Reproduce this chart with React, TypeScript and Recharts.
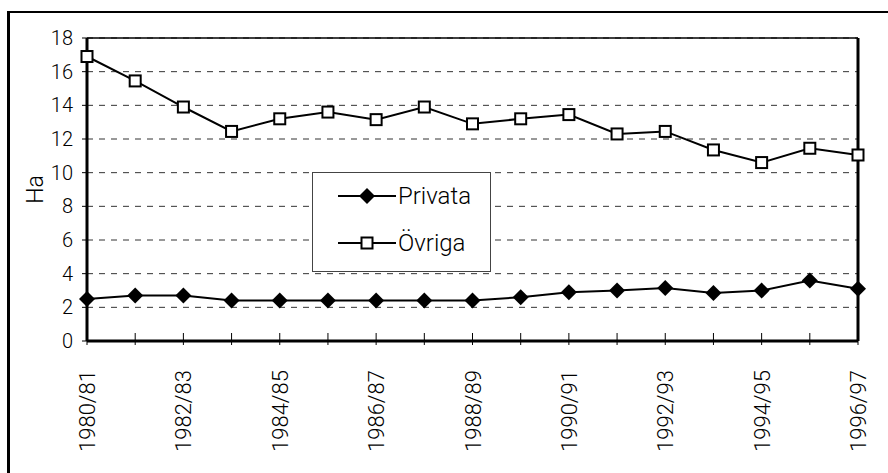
import React from 'react';
import {LineChart, Line, XAxis, YAxis, CartesianGrid, Legend, ReferenceLine} from 'recharts';

const years = ['1980/81', '1981/82', '1982/83', '1983/84', '1984/85', '1985/86', '1986/87', '1987/88', '1988/89',
    '1989/90', '1990/91', '1991/92', '1992/93', '1993/94', '1994/95', '1995/96', '1996/97'];
const privata = [2.5, 2.7, 2.7, 2.4, 2.4, 2.4, 2.4, 2.4, 2.4, 2.6, 2.9, 3.0, 3.15, 2.85, 3.0, 3.6, 3.1];
const ovriga = [16.9, 15.45, 13.9, 12.45, 13.2, 13.6, 13.15, 13.9, 12.9, 13.2, 13.45, 12.3, 12.45, 11.35, 10.6, 11.45, 11.05];
const yTicks = [0, 2, 4, 6, 8, 10, 12, 14, 16, 18];

const data = years.map((y, i) => ({year: y, Privata: privata[i], Ovriga: ovriga[i]}));

const font = 'Roboto, "Liberation Sans", Arial, sans-serif';
const weight = 300;

const Diamond = (props: any) => {
    const {cx, cy, index} = props;
    if (cx == null || cy == null) return null;
    return <path key={'p' + index} d={`M${cx},${cy - 8}L${cx + 8},${cy}L${cx},${cy + 8}L${cx - 8},${cy}Z`} fill="#000"/>;
};

const Square = (props: any) => {
    const {cx, cy, index} = props;
    if (cx == null || cy == null) return null;
    return <rect key={'o' + index} x={cx - 5.5} y={cy - 5.5} width={11} height={11} fill="#fff" stroke="#000" strokeWidth={2}/>;
};

const XTick = (props: any) => {
    const {x, y, payload, index} = props;
    return (
        <g>
            <line x1={x} x2={x} y1={y - 8} y2={y + 4} stroke="#000" strokeWidth={1}/>
            {index % 2 === 0 && (
                <text x={0} y={0} transform={`translate(${x + 8},${y + 29}) rotate(-90)`} textAnchor="end"
                      fontSize={22} fontWeight={weight} fill="#000" fontFamily={font}>{payload.value}</text>
            )}
        </g>
    );
};

const LegendBox = () => {
    const row = (label: string, top: number, marker: React.ReactNode) => (
        <div style={{position: 'absolute', left: 25, top: top - 14, height: 28, display: 'flex', alignItems: 'center'}}>
            <svg width={58} height={28}>
                <line x1={0} x2={58} y1={14} y2={14} stroke="#000" strokeWidth={2}/>
                {marker}
            </svg>
            <span style={{fontSize: 24, fontWeight: weight, marginLeft: 2, lineHeight: '28px'}}>{label}</span>
        </div>
    );
    return (
        <div style={{position: 'relative', width: 179, height: 100, boxSizing: 'border-box', border: '1px solid #444',
            background: '#fff', fontFamily: font, color: '#000'}}>
            {row('Privata', 23, <path d="M29,6L37,14L29,22L21,14Z" fill="#000"/>)}
            {row('Övriga', 70, <rect x={23.5} y={8.5} width={11} height={11} fill="#fff" stroke="#000" strokeWidth={2}/>)}
        </div>
    );
};

export default function App() {
    return (
        <div style={{position: 'absolute', left: 0, top: 0, width: 888, height: 473, overflow: 'hidden', background: '#fff', fontFamily: font}}>
            <div style={{position: 'absolute', left: 7, top: 11, width: 1000, height: 1000, borderLeft: '3px solid #000', borderTop: '2px solid #000'}}/>
            <div style={{position: 'absolute', left: 0, top: 0}}>
                <LineChart width={888} height={473} data={data} margin={{top: 38, right: 30, left: 0, bottom: 0}}>
                    <CartesianGrid vertical={false} stroke="#333" strokeDasharray="6 6"/>
                    <XAxis dataKey="year" interval={0} height={132} tickSize={0} tickMargin={0} tickLine={false}
                           axisLine={{stroke: '#000', strokeWidth: 3}} tick={<XTick/>}/>
                    <YAxis domain={[0, 18]} ticks={yTicks} width={87} tickSize={5} tickMargin={9}
                           axisLine={{stroke: '#000', strokeWidth: 3}} tickLine={{stroke: '#000'}}
                           tick={{fontSize: 20, fontWeight: weight, fill: '#000', fontFamily: font}}
                           label={{value: 'Ha', angle: -90, position: 'center', dx: -8.5, fontSize: 23, fontWeight: weight, fill: '#000', fontFamily: font}}/>
                    <ReferenceLine y={18} stroke="#000" strokeWidth={1.5}/>
                    <ReferenceLine x="1996/97" stroke="#000" strokeWidth={3}/>
                    <Legend layout="vertical" align="center" verticalAlign="middle" content={() => <LegendBox/>}
                            wrapperStyle={{left: 312, top: 172, width: 179, height: 100}}/>
                    <Line type="linear" dataKey="Privata" stroke="#000" strokeWidth={2} dot={Diamond} isAnimationActive={false}/>
                    <Line type="linear" dataKey="Ovriga" name="Övriga" stroke="#000" strokeWidth={2} dot={Square} isAnimationActive={false}/>
                </LineChart>
            </div>
        </div>
    );
}
